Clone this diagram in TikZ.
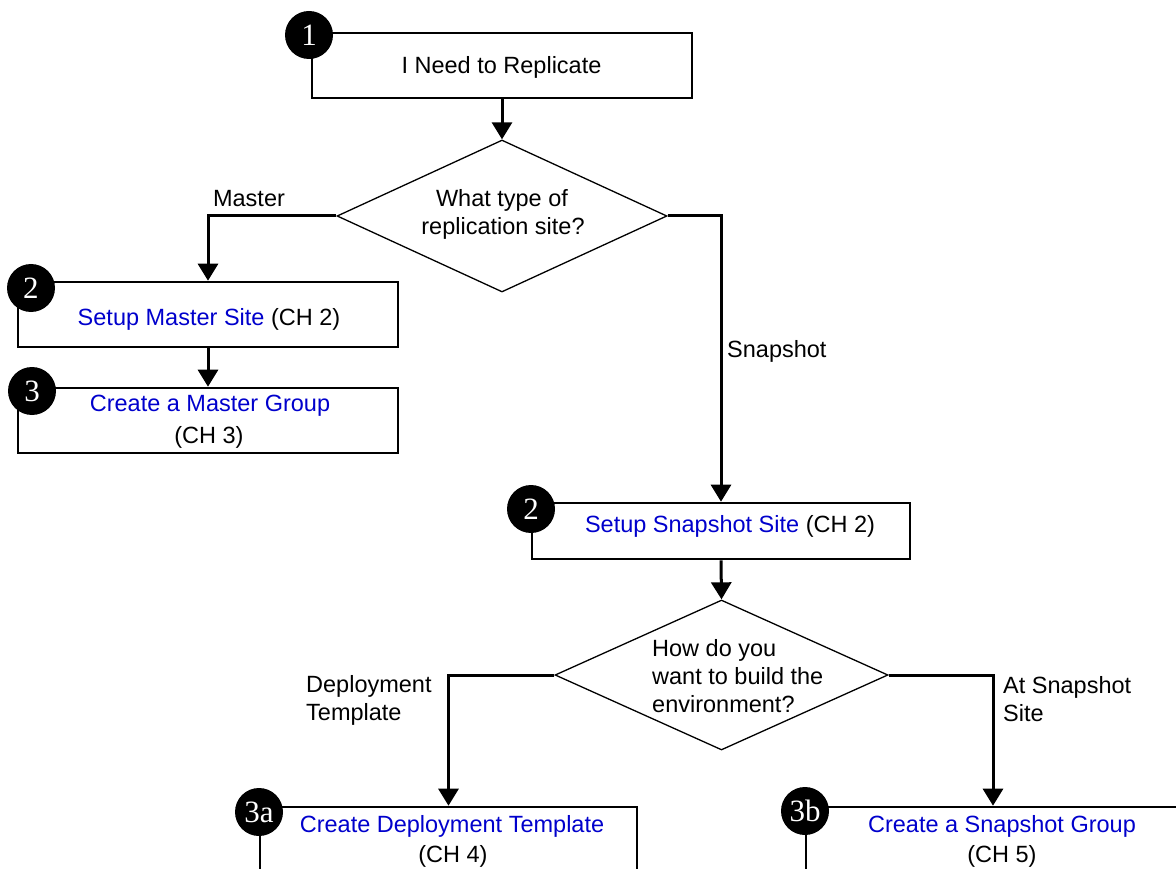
\documentclass[tikz,border=0pt]{standalone}
\usepackage{fontspec}
\setmainfont{Liberation Sans}
\newfontfamily\badgefont{Liberation Serif}
\usetikzlibrary{arrows.meta,shapes.geometric}
\definecolor{linkblue}{RGB}{0,0,204}

\begin{document}
\begin{tikzpicture}[x=1pt,y=-1pt,
  stepbox/.style={draw, line width=2.6pt, inner sep=0pt},
  decision/.style={draw, shape=diamond, line width=1.3pt, inner sep=0pt},
  flowline/.style={line width=3pt, -{Triangle[width=20pt,length=17pt]}},
  badge/.style={circle, fill=black, minimum size=48pt, inner sep=0pt,
    text=white, font=\badgefont\fontsize{31}{31}\selectfont},
  body/.style={font=\fontsize{23.5}{28}\selectfont, inner sep=0pt, anchor=base},
  bodyleft/.style={body, anchor=base west},
  link/.style={text=linkblue}
]
\useasboundingbox (0,0) rectangle (1176,869);
\clip (0,0) rectangle (1176,869);

% step boxes
\node[stepbox, minimum width=380pt, minimum height=65pt] (start) at (502,65.5) {};
\node[stepbox, minimum width=380pt, minimum height=65pt] (master) at (208,314.5) {};
\node[stepbox, minimum width=380pt, minimum height=65pt] (mgroup) at (208,420.5) {};
\node[stepbox, minimum width=378pt, minimum height=56pt] (snap) at (721,531) {};
\node[stepbox, minimum width=377pt, minimum height=100pt] (deploy) at (448.5,857) {};
\node[stepbox, minimum width=374pt, minimum height=100pt] (sgroup) at (993,857) {};

% decisions
\node[decision, minimum width=330pt, minimum height=152pt] (sitetype) at (502,216) {};
\node[decision, minimum width=333pt, minimum height=150pt] (build) at (721.5,675) {};

% connectors
\draw[flowline] (start.south) -- (sitetype.north);
\draw[flowline] (sitetype.west) -| (master.north);
\draw[flowline] (master.south) -- (mgroup.north);
\draw[flowline] (sitetype.east) -| (snap.north);
\draw[flowline] (snap.south) -- (build.north);
\draw[flowline] (build.west) -| (deploy.north);
\draw[flowline] (build.east) -| (sgroup.north);

% step numbers
\node[badge] (n1) at (309,35) {1};
\node[badge] (n2m) at (31,288) {2};
\node[badge] (n3m) at (32,391) {3};
\node[badge] (n2s) at (531,509) {2};
\node[badge] (n3a) at (259,812) {3a};
\node[badge] (n3b) at (805,811) {3b};

% texts
\node[body] (tstart) at (501.5,74) {I Need to Replicate};
\node[body] (tq1a) at (502,207) {What type of};
\node[body] (tq1b) at (503,235) {replication site?};
\node[body] (lmaster) at (249,207) {Master};
\node[bodyleft] (lsnap) at (727,357) {Snapshot};
\node[body] (tmaster) at (209,326) {{\color{linkblue}Setup Master Site} (CH 2)};
\node[body, link] (tmgroup) at (210,411) {Create a Master Group};
\node[body] (tmgroupch) at (209,443) {(CH 3)};
\node[body] (tsnap) at (730,532) {{\color{linkblue}Setup Snapshot Site} (CH 2)};
\node[bodyleft] (tq2a) at (652,656) {How do you};
\node[bodyleft] (tq2b) at (652,684) {want to build the};
\node[bodyleft] (tq2c) at (652,712) {environment?};
\node[bodyleft] (ldeploya) at (306,692) {Deployment};
\node[bodyleft] (ldeployb) at (306,720) {Template};
\node[bodyleft] (latsnapa) at (1003,693) {At Snapshot};
\node[bodyleft] (latsnapb) at (1003,721) {Site};
\node[body, link] (tdeploy) at (452,832) {Create Deployment Template};
\node[body] (tdeploych) at (453,862) {(CH 4)};
\node[body, link] (tsgroup) at (1002,832) {Create a Snapshot Group};
\node[body] (tsgroupch) at (1002,862) {(CH 5)};
\end{tikzpicture}
\end{document}
